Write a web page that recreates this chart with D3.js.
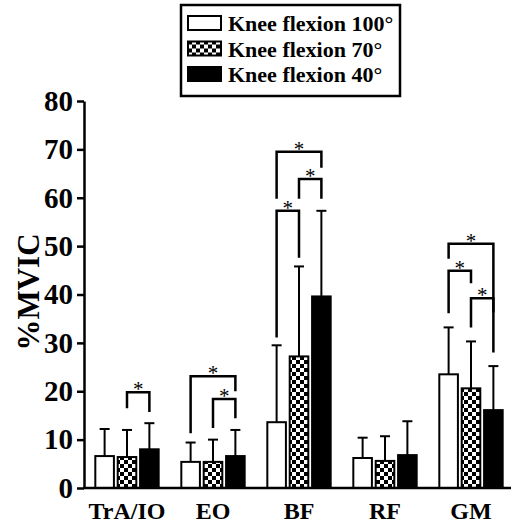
<!DOCTYPE html>
<html>
<head>
<meta charset="utf-8">
<script src="https://cdn.jsdelivr.net/npm/d3@7"></script>
<style>
  body { margin: 0; background: #fff; }
  svg { display: block; }
  text { font-family: "Liberation Serif", "Times New Roman", serif; font-weight: bold; }
</style>
</head>
<body>
<div id="chart"></div>
<script>
// Muscles on the x axis and the three knee angles
const muscles = ["TrA/IO", "EO", "BF", "RF", "GM"];
const conditions = ["Knee flexion 100°", "Knee flexion 70°", "Knee flexion 40°"];

// Mean %MVIC per condition (same order as muscles)
const mean100 = [6.6, 5.4, 13.6, 6.2, 23.5];
const mean70 = [6.4, 5.4, 27.2, 5.6, 20.6];
const mean40 = [8.0, 6.6, 39.6, 6.8, 16.1];

// Standard deviations (upper error bars only)
const sd100 = [5.6, 4.0, 15.9, 4.2, 9.7];
const sd70 = [5.6, 4.6, 18.6, 5.1, 9.7];
const sd40 = [5.4, 5.4, 17.7, 7.0, 9.1];

const yTicks = [0, 10, 20, 30, 40, 50, 60, 70, 80];

// Significance brackets: muscle, condition indices, bracket level, leg ends (in %MVIC)
const brackets = [
  { muscle: "TrA/IO", from: 1, to: 2, top: 19.8, leftEnd: 16.5, rightEnd: 15.7 },
  { muscle: "EO", from: 0, to: 2, top: 23.1, leftEnd: 11.3, rightEnd: 20.0 },
  { muscle: "EO", from: 1, to: 2, top: 18.4, leftEnd: 12.4, rightEnd: 14.4 },
  { muscle: "BF", from: 0, to: 2, top: 69.5, leftEnd: 59.8, rightEnd: 66.2 },
  { muscle: "BF", from: 1, to: 2, top: 63.9, leftEnd: 59.8, rightEnd: 59.8 },
  { muscle: "BF", from: 0, to: 1, top: 57.3, leftEnd: 31.1, rightEnd: 47.6 },
  { muscle: "GM", from: 0, to: 2, top: 50.5, leftEnd: 47.4, rightEnd: 36.3 },
  { muscle: "GM", from: 0, to: 1, top: 44.9, leftEnd: 36.1, rightEnd: 42.3 },
  { muscle: "GM", from: 1, to: 2, top: 39.2, leftEnd: 33.2, rightEnd: 28.0 }
];

const width = 513, height = 526;
const means = [mean100, mean70, mean40];
const sds = [sd100, sd70, sd40];

const svg = d3.select("#chart").append("svg")
  .attr("width", width)
  .attr("height", height);

// checkerboard fill for the 70° series
const defs = svg.append("defs");
const pat = defs.append("pattern")
  .attr("id", "checker")
  .attr("patternUnits", "userSpaceOnUse")
  .attr("width", 8).attr("height", 8);
pat.append("rect").attr("width", 8).attr("height", 8).attr("fill", "#fff");
pat.append("rect").attr("width", 4).attr("height", 4).attr("fill", "#000");
pat.append("rect").attr("x", 4).attr("y", 4).attr("width", 4).attr("height", 4).attr("fill", "#000");

const fills = ["#fff", "url(#checker)", "#000"];

const y = d3.scaleLinear().domain([0, 80]).range([488, 101]);
const x0 = d3.scaleBand().domain(muscles).range([84, 514]).paddingInner(0.24).paddingOuter(0.12);
const x1 = d3.scaleBand().domain(d3.range(conditions.length)).range([0, x0.bandwidth()]).paddingInner(0.08);
const cx = (m, c) => x0(m) + x1(c) + x1.bandwidth() / 2;

// Build flat bar records
const bars = [];
muscles.forEach((m, i) => {
  conditions.forEach((c, j) => {
    bars.push({ muscle: m, cond: j, mean: means[j][i], sd: sds[j][i] });
  });
});

// error bars (drawn first so bar outline sits on top)
const err = svg.append("g").attr("stroke", "#000").attr("stroke-width", 2);
err.selectAll("line.v")
  .data(bars)
  .join("line")
  .attr("class", "v")
  .attr("x1", d => cx(d.muscle, d.cond))
  .attr("x2", d => cx(d.muscle, d.cond))
  .attr("y1", d => y(d.mean))
  .attr("y2", d => y(d.mean + d.sd));
err.selectAll("line.cap")
  .data(bars)
  .join("line")
  .attr("class", "cap")
  .attr("x1", d => cx(d.muscle, d.cond) - 5)
  .attr("x2", d => cx(d.muscle, d.cond) + 5)
  .attr("y1", d => y(d.mean + d.sd))
  .attr("y2", d => y(d.mean + d.sd));

svg.append("g")
  .selectAll("rect")
  .data(bars)
  .join("rect")
  .attr("x", d => x0(d.muscle) + x1(d.cond) + 1)
  .attr("y", d => y(d.mean))
  .attr("width", x1.bandwidth() - 2)
  .attr("height", d => y(0) - y(d.mean))
  .attr("fill", d => fills[d.cond])
  .attr("stroke", "#000")
  .attr("stroke-width", 2);

// significance brackets
const br = svg.append("g");
br.selectAll("path")
  .data(brackets)
  .join("path")
  .attr("fill", "none")
  .attr("stroke", "#000")
  .attr("stroke-width", 2.5)
  .attr("d", d => {
    const xa = cx(d.muscle, d.from), xb = cx(d.muscle, d.to);
    return `M${xa},${y(d.leftEnd)}V${y(d.top)}H${xb}V${y(d.rightEnd)}`;
  });
br.selectAll("text")
  .data(brackets)
  .join("text")
  .attr("x", d => (cx(d.muscle, d.from) + cx(d.muscle, d.to)) / 2)
  .attr("y", d => y(d.top) + 4)
  .attr("text-anchor", "middle")
  .attr("font-size", 21)
  .style("font-weight", "normal")
  .text("*");

// axes
const yAxis = svg.append("g")
  .attr("transform", "translate(84,0)")
  .call(d3.axisLeft(y).tickValues(yTicks).tickSize(7).tickPadding(4).tickSizeOuter(0));
yAxis.select(".domain").attr("stroke-width", 2.5);
yAxis.selectAll(".tick line").attr("stroke-width", 2.5);
yAxis.selectAll("text")
  .attr("font-size", 29)
  .attr("fill", "#000");

const xAxis = svg.append("g")
  .attr("transform", "translate(0,488)")
  .call(d3.axisBottom(x0).tickSize(0).tickPadding(14).tickSizeOuter(0));
xAxis.select(".domain").attr("d", "M83,0H511").attr("stroke-width", 2.5);
xAxis.selectAll("text")
  .attr("font-size", 24)
  .attr("fill", "#000");

svg.append("text")
  .attr("transform", "translate(39,292) rotate(-90)")
  .attr("text-anchor", "middle")
  .attr("font-size", 31)
  .text("%MVIC");

// legend
const lg = svg.append("g");
lg.append("rect")
  .attr("x", 181).attr("y", 5)
  .attr("width", 219).attr("height", 91)
  .attr("fill", "#fff")
  .attr("stroke", "#000")
  .attr("stroke-width", 2.5);
const item = lg.selectAll("g.item")
  .data(conditions)
  .join("g")
  .attr("class", "item")
  .attr("transform", (d, i) => `translate(188,${23 + i * 25.5})`);
item.append("rect")
  .attr("x", 0).attr("y", -7)
  .attr("width", 33).attr("height", 14)
  .attr("fill", (d, i) => fills[i])
  .attr("stroke", "#000")
  .attr("stroke-width", 2);
item.append("text")
  .attr("x", 40).attr("y", 8)
  .attr("font-size", 22)
  .text(d => d);
</script>
</body>
</html>
